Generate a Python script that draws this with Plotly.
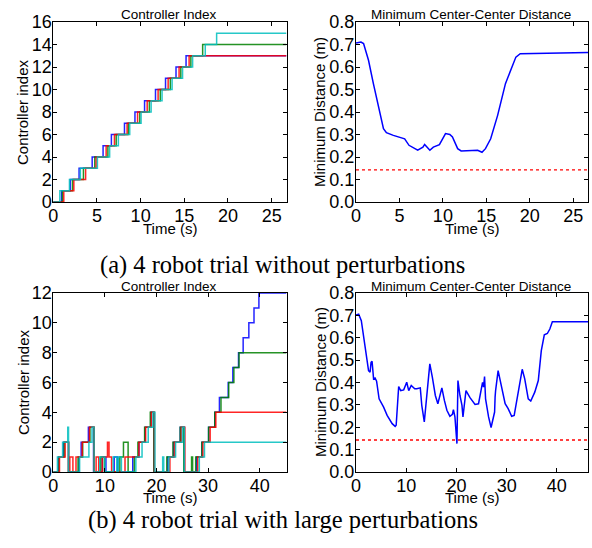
import plotly.graph_objects as go

W, H = 592, 548

# ---------------- (a) without perturbations ----------------
T_END_A = 26.7
steps_a_blue = [0.95, 1.95, 2.95, 4.45, 5.7, 6.65, 8.15, 9.35, 10.45, 11.7, 12.85, 14.05, 15.2]
levels_a_blue = [1, 2, 3, 4, 5, 6, 7, 8, 9, 10, 11, 12, 13]
steps_a_green = [1.05, 2.2, 3.45, 4.75, 6.25, 7.2, 8.6, 9.9, 11.0, 12.25, 13.4, 14.6, 15.75, 17.1]
levels_a_green = [1, 2, 3, 4, 5, 6, 7, 8, 9, 10, 11, 12, 13, 14]
steps_a_red = [1.2, 2.35, 3.7, 4.9, 6.05, 7.0, 8.45, 9.65, 10.75, 12.0, 13.15, 14.4, 15.55]
levels_a_red = [1, 2, 3, 4, 5, 6, 7, 8, 9, 10, 11, 12, 13]
steps_a_cyan = [0.75, 1.85, 3.1, 5.05, 6.45, 7.45, 8.75, 10.05, 11.2, 12.45, 13.6, 14.8, 15.95, 17.4, 18.7]
levels_a_cyan = [1, 2, 3, 4, 5, 6, 7, 8, 9, 10, 11, 12, 13, 14, 15]

dist_a_t = [0, 0.57, 0.87, 1.44, 2.0, 2.6, 3.16, 3.5, 4.3, 5.6, 6.1, 7.1, 7.7, 7.9, 8.5, 8.9,
            9.6, 10.3, 10.8, 11.1, 11.7, 12.1, 13.0, 14.0, 14.5, 14.9, 15.5, 16.3, 17.2,
            18.4, 18.9, 26.7]
dist_a_d = [0.707, 0.711, 0.704, 0.63, 0.526, 0.42, 0.326, 0.308, 0.296, 0.281, 0.252, 0.23,
            0.244, 0.256, 0.23, 0.244, 0.255, 0.304, 0.30, 0.289, 0.237, 0.227, 0.227, 0.23,
            0.221, 0.237, 0.281, 0.385, 0.526, 0.644, 0.659, 0.664]

# ---------------- (b) with large perturbations ----------------
T_END_B_LEFT = 45.2
T_END_B_RIGHT = 46.2
steps_b_blue = [1.0, 2.0, 2.95, 5.0, 5.4, 6.8, 7.8, 9.5, 10.2, 11.8, 12.5, 15.4, 16.6, 17.8,
                18.9, 19.5, 22.2, 23.3, 24.6, 25.4, 27.8, 28.8, 30.1, 31.3, 32.2, 33.9, 34.8,
                35.9, 36.8, 37.9, 38.9, 39.85]
levels_b_blue = [1, 2, 0, 1, 2, 3, 0, 1, 0, 1, 0, 1, 2, 3, 4, 0, 1, 2, 3, 0, 1, 2, 3, 4, 5,
                 6, 7, 8, 9, 10, 11, 12]
steps_b_green = [1.1, 2.1, 2.95, 4.8, 5.7, 7.1, 7.9, 9.2, 9.9, 12.9, 13.6, 14.5, 15.7, 16.4,
                 17.7, 18.8, 19.5, 22.0, 23.2, 24.6, 25.3, 26.8, 27.0, 27.6, 28.8, 30.1, 31.3,
                 32.5, 34.0, 35.0, 36.0]
levels_b_green = [1, 2, 0, 1, 2, 3, 0, 1, 0, 1, 2, 0, 1, 2, 3, 4, 0, 1, 2, 3, 0, 1, 0, 1, 2,
                  3, 4, 5, 6, 7, 8]
steps_b_red = [1.2, 2.3, 2.95, 3.2, 3.8, 4.4, 5.6, 7.0, 7.9, 8.3, 8.8, 9.5, 10.5, 10.8, 11.3,
               13.9, 16.6, 17.9, 19.0, 19.6, 22.6, 23.5, 24.8, 25.5, 28.0, 29.0, 30.4, 31.5]
levels_b_red = [1, 2, 0, 1, 0, 1, 2, 3, 0, 1, 0, 1, 2, 1, 0, 1, 2, 3, 4, 0, 1, 2, 3, 0, 1, 2,
                3, 4]
steps_b_cyan = [0.8, 1.8, 2.8, 2.95, 5.1, 6.9, 7.5, 7.9, 9.0, 10.0, 11.6, 12.3, 12.6, 13.2,
                16.0, 17.2, 18.4, 19.3, 19.7, 21.2, 21.4, 22.4, 23.7, 25.0, 25.4, 28.3, 29.3]
levels_b_cyan = [1, 2, 3, 0, 1, 2, 3, 0, 1, 0, 1, 0, 1, 0, 1, 2, 3, 4, 0, 1, 0, 1, 2, 3, 0,
                 1, 2]

dist_b_t = [0, 0.53, 1.06, 1.5, 2.0, 2.5, 2.8, 3.0, 3.2, 3.5, 3.8, 4.1, 4.6, 5.5, 6.2, 7.2,
            7.8, 8.0, 8.5, 8.9, 9.5, 10.1, 10.5, 11.0, 11.7, 12.1, 12.8, 13.1, 13.6, 14.1,
            14.7, 15.2, 15.8, 16.3, 17.1, 17.6, 18.1, 18.7, 19.2, 19.4, 19.7, 20.1, 20.3,
            20.7, 21.1, 21.3, 21.5, 21.9, 22.7, 23.7, 24.4, 25.2, 25.4, 25.6, 25.8, 26.4,
            26.9, 27.6, 27.7, 27.8, 28.3, 29.0, 29.7, 30.3, 31.0, 31.5, 32.3, 33.1, 33.6,
            34.3, 34.8, 35.6, 36.3, 36.9, 37.5, 38.1, 38.6, 39.1, 46.2]
dist_b_d = [0.702, 0.705, 0.676, 0.60, 0.527, 0.453, 0.446, 0.49, 0.495, 0.416, 0.42, 0.406,
            0.327, 0.29, 0.253, 0.216, 0.204, 0.209, 0.382, 0.364, 0.367, 0.401, 0.364,
            0.387, 0.372, 0.372, 0.376, 0.298, 0.224, 0.335, 0.483, 0.424, 0.342, 0.305,
            0.376, 0.32, 0.276, 0.249, 0.258, 0.279, 0.246, 0.127, 0.409, 0.342, 0.298,
            0.246, 0.298, 0.364, 0.332, 0.302, 0.305, 0.401, 0.379, 0.427, 0.327, 0.246,
            0.199, 0.268, 0.335, 0.364, 0.453, 0.379, 0.305, 0.283, 0.249, 0.253, 0.364,
            0.459, 0.416, 0.327, 0.317, 0.357, 0.409, 0.542, 0.613, 0.619, 0.639, 0.671,
            0.671]

SAFETY_DIST = 0.143

COLORS = {"blue": "#0000FF", "green": "#008000", "red": "#FF0000", "cyan": "#00BFBF"}

SANS = "Liberation Sans, Arial, Helvetica, sans-serif"
SERIF = "Liberation Serif, Times New Roman, serif"


def px_x(p):
    return p / W


def px_y(p):
    return 1 - p / H


fig = go.Figure()


def add_steps(times, levels, t_end, color, xa, ya):
    xs = [0] + list(times) + [t_end]
    ys = [0] + list(levels) + [levels[-1]]
    fig.add_trace(go.Scatter(x=xs, y=ys, mode="lines", line=dict(color=color, width=1.5, shape="hv"),
                             opacity=0.85, xaxis=xa, yaxis=ya, showlegend=False, hoverinfo="skip"))


# (a) left
add_steps(steps_a_blue, levels_a_blue, T_END_A, COLORS["blue"], "x", "y")
add_steps(steps_a_green, levels_a_green, T_END_A, COLORS["green"], "x", "y")
add_steps(steps_a_red, levels_a_red, T_END_A, COLORS["red"], "x", "y")
add_steps(steps_a_cyan, levels_a_cyan, T_END_A, COLORS["cyan"], "x", "y")
# (a) right
fig.add_trace(go.Scatter(x=dist_a_t, y=dist_a_d, mode="lines", line=dict(color=COLORS["blue"], width=1.5),
                         xaxis="x2", yaxis="y2", showlegend=False))
fig.add_trace(go.Scatter(x=[0, T_END_A], y=[SAFETY_DIST, SAFETY_DIST], mode="lines",
                         line=dict(color=COLORS["red"], width=1.3, dash="dot"),
                         xaxis="x2", yaxis="y2", showlegend=False))
# (b) left
add_steps(steps_b_blue, levels_b_blue, T_END_B_LEFT, COLORS["blue"], "x3", "y3")
add_steps(steps_b_green, levels_b_green, T_END_B_LEFT, COLORS["green"], "x3", "y3")
add_steps(steps_b_red, levels_b_red, T_END_B_LEFT, COLORS["red"], "x3", "y3")
add_steps(steps_b_cyan, levels_b_cyan, T_END_B_LEFT, COLORS["cyan"], "x3", "y3")
# (b) right
fig.add_trace(go.Scatter(x=dist_b_t, y=dist_b_d, mode="lines", line=dict(color=COLORS["blue"], width=1.5),
                         xaxis="x4", yaxis="y4", showlegend=False))
fig.add_trace(go.Scatter(x=[0, T_END_B_RIGHT], y=[SAFETY_DIST, SAFETY_DIST], mode="lines",
                         line=dict(color=COLORS["red"], width=1.3, dash="dot"),
                         xaxis="x4", yaxis="y4", showlegend=False))

LX = [px_x(53.3), px_x(286.5)]
RX = [px_x(356), px_x(588)]
TY = [px_y(202), px_y(22)]
BY = [px_y(472), px_y(293)]

common = dict(showline=True, linecolor="black", linewidth=1, mirror="ticks", ticks="inside",
              ticklen=4, tickcolor="black", showgrid=False, zeroline=False, automargin=False,
              ticklabelstandoff=-3,
              tickfont=dict(family=SANS, size=18, color="black"))

fig.update_layout(
    template="none",
    width=W, height=H, margin=dict(l=0, r=0, t=0, b=0, pad=0),
    paper_bgcolor="white", plot_bgcolor="white",
    xaxis=dict(domain=LX, anchor="y", range=[0, T_END_A], dtick=5, tick0=0, **common),
    yaxis=dict(domain=TY, anchor="x", range=[0, 16], dtick=2, tick0=0, **common),
    xaxis2=dict(domain=RX, anchor="y2", range=[0, T_END_A], dtick=5, tick0=0, **common),
    yaxis2=dict(domain=TY, anchor="x2", range=[0, 0.8], dtick=0.1, tick0=0, tickformat=".1f", **common),
    xaxis3=dict(domain=LX, anchor="y3", range=[0, T_END_B_LEFT], dtick=10, tick0=0, **common),
    yaxis3=dict(domain=BY, anchor="x3", range=[0, 12], dtick=2, tick0=0, **common),
    xaxis4=dict(domain=RX, anchor="y4", range=[0, T_END_B_RIGHT], dtick=10, tick0=0, **common),
    yaxis4=dict(domain=BY, anchor="x4", range=[0, 0.8], dtick=0.1, tick0=0, tickformat=".1f", **common),
)


def ann(text, x, y, size, family=SANS, angle=0):
    fig.add_annotation(text=text, x=px_x(x), y=px_y(y), xref="paper", yref="paper",
                       showarrow=False, textangle=angle, xanchor="center", yanchor="middle",
                       font=dict(family=family, size=size, color="black"))


# subplot titles
ann("Controller Index", 169, 15, 13.5)
ann("Minimum Center-Center Distance", 471, 15, 13.5)
ann("Controller Index", 169, 286, 13.5)
ann("Minimum Center-Center Distance", 471, 286, 13.5)
# axis titles
ann("Time (s)", 170, 228, 15)
ann("Time (s)", 472, 228, 15)
ann("Time (s)", 170, 498, 15)
ann("Time (s)", 472, 498, 15)
ann("Controller index", 23, 112, 15, angle=-90)
ann("Minimum Distance (m)", 320, 112, 15, angle=-90)
ann("Controller index", 23, 382, 15, angle=-90)
ann("Minimum Distance (m)", 320, 382, 15, angle=-90)
# captions
ann("(a) 4 robot trial without perturbations", 282, 265, 24.5, family=SERIF)
ann("(b) 4 robot trial with large perturbations", 283, 520, 24.5, family=SERIF)

fig.write_html("out.html", config={"displayModeBar": False},
               post_script="document.body.style.margin='0px';document.body.style.overflow='hidden';")
